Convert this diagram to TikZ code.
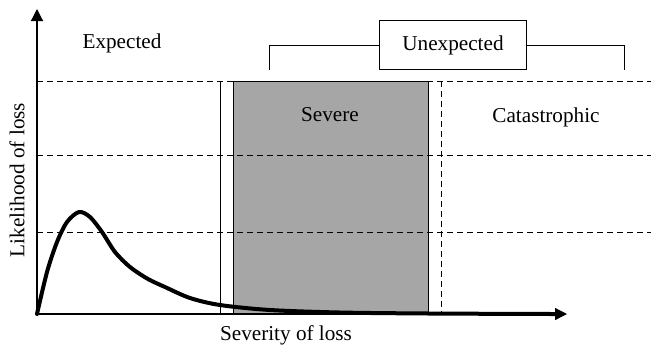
\documentclass[tikz,border=0pt]{standalone}
\usepackage{fontspec}
\setmainfont{Liberation Serif}
\usetikzlibrary{arrows.meta}

\begin{document}
\begin{tikzpicture}
            [x=0.5pt, y=-0.5pt, font=\fontsize{10.6}{12}\selectfont,
             axis/.style={line width=0.6pt, -{Triangle[length=6pt,width=6pt]}},
             grid/.style={line width=0.5pt, dash pattern=on 3.2pt off 1.8pt},
             bracket/.style={line width=0.5pt},
             lossbox/.style={draw, line width=0.5pt, minimum width=73.5pt, minimum height=24.3pt},
             density/.style={line width=2pt, line join=round, line cap=round}]
            \useasboundingbox (0, 0) rectangle (651, 345);
            \coordinate (O) at (37, 314);
            \coordinate (ytip) at (37, 9);
            \coordinate (xtip) at (567, 314);
            % severe band
            \filldraw [fill={rgb,255:red,166;green,166;blue,166}, line width=0.5pt] (233, 81) rectangle (428, 314);
            \foreach \y in {81, 155, 232}
                \draw [grid] (37, \y) -- (651, \y);
            \draw [line width=0.5pt] (220, 81) -- (220, 314);
            \draw [grid] (441, 81) -- (441, 314);
            \draw [axis] (O) -- (xtip);
            \draw [axis] (O) -- (ytip);
            \draw [density] plot [smooth, tension=0.5] coordinates
                {(37, 314) (47, 272) (57, 242) (67, 222) (79, 212) (90, 217) (102, 232)
                 (115, 252) (130, 267) (148, 279) (165, 287) (190, 298) (220, 305)
                 (270, 310) (340, 312.5) (430, 313.5) (555, 314)};
            \node (expected) at (122, 43) {Expected};
            \node (severe) at (330, 115) {Severe};
            \node (catastrophic) at (546, 117) {Catastrophic};
            \node (ylab) [rotate=90] at (17, 180) {Likelihood of loss};
            \node (xlab) at (286, 335) {Severity of loss};
            % unexpected bracket
            \node [lossbox] (unexpected) at (453, 45) {Unexpected};
            \coordinate (bl) at (269, 70);
            \coordinate (br) at (624, 70);
            \draw [bracket] (unexpected.west) -| (bl);
            \draw [bracket] (unexpected.east) -| (br);
        \end{tikzpicture}
\end{document}
